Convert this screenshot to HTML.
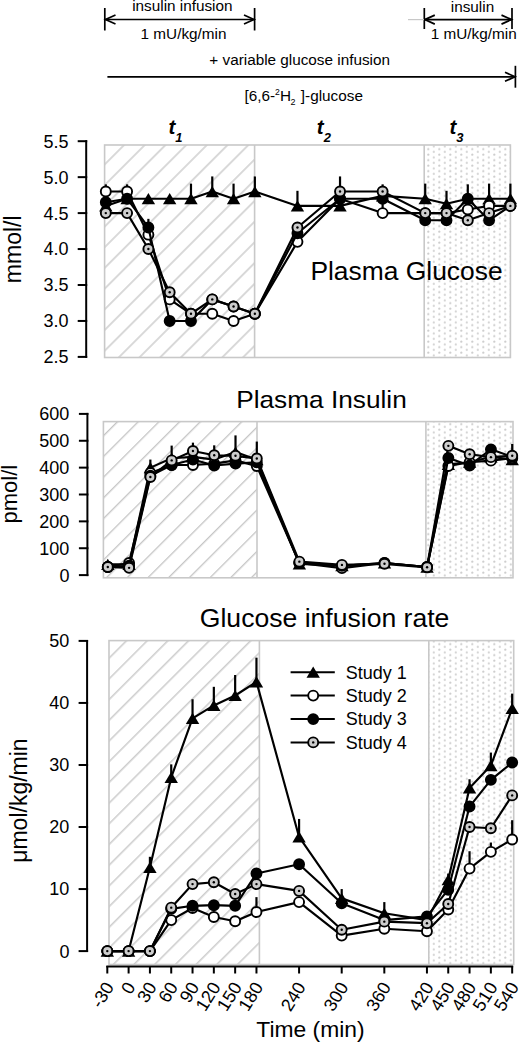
<!DOCTYPE html>
<html><head><meta charset="utf-8"><title>Figure</title>
<style>
html,body{margin:0;padding:0;background:#fff;width:520px;height:1042px;overflow:hidden}
svg{display:block;font-family:"Liberation Sans", sans-serif}
</style></head><body>
<svg width="520" height="1042" viewBox="0 0 520 1042" font-family='"Liberation Sans", sans-serif' fill="#000"><defs><pattern id="hatch1" patternUnits="userSpaceOnUse" width="14.64" height="14.64" patternTransform="rotate(45)"><rect x="-0.65" y="-1" width="1.25" height="17" fill="#c2c2c2"/><rect x="13.99" y="-1" width="1.25" height="17" fill="#c2c2c2"/></pattern><pattern id="hatch2" patternUnits="userSpaceOnUse" width="14.64" height="14.64" patternTransform="rotate(45)"><rect x="0.06" y="-1" width="1.25" height="17" fill="#c2c2c2"/><rect x="14.69" y="-1" width="1.25" height="17" fill="#c2c2c2"/></pattern><pattern id="hatch3" patternUnits="userSpaceOnUse" width="14.64" height="14.64" patternTransform="rotate(45)"><rect x="0.2" y="-1" width="1.25" height="17" fill="#c2c2c2"/><rect x="14.84" y="-1" width="1.25" height="17" fill="#c2c2c2"/></pattern><pattern id="dots" patternUnits="userSpaceOnUse" width="11" height="5.5" x="0" y="0">
<circle cx="10.3" cy="0.6" r="1.1" fill="#cdcdcd"/><circle cx="-0.7" cy="0.6" r="1.1" fill="#cdcdcd"/>
<circle cx="10.3" cy="6.1" r="1.1" fill="#cdcdcd"/><circle cx="-0.7" cy="6.1" r="1.1" fill="#cdcdcd"/>
<circle cx="4.8" cy="3.35" r="1.1" fill="#d2d2d2"/>
</pattern>
</defs><g stroke="#000" stroke-width="1.7" fill="none">
<line x1="104.8" y1="8" x2="104.8" y2="30.5"/>
<line x1="254.6" y1="8" x2="254.6" y2="30.5"/>
<line x1="105" y1="19.5" x2="254.4" y2="19.5"/>
<path d="M115.5 15 L105.5 19.5 L115.5 24"/>
<path d="M244 15 L254 19.5 L244 24"/>
<line x1="424.3" y1="8" x2="424.3" y2="29"/>
<line x1="512" y1="8" x2="512" y2="29"/>
<line x1="424.5" y1="19.6" x2="511.8" y2="19.6"/>
<path d="M434.8 15.1 L424.8 19.6 L434.8 24.1"/>
<path d="M501.5 15.1 L511.5 19.6 L501.5 24.1"/>
<line x1="107.4" y1="76.8" x2="515" y2="76.8"/>
<line x1="515.4" y1="65.8" x2="515.4" y2="87.7"/>
<path d="M505 72.3 L515 76.8 L505 81.3"/>
</g>
<line x1="408" y1="19.6" x2="424" y2="19.6" stroke="#c8c8c8" stroke-width="1.2"/>
<text x="132.2" y="10.8" font-size="15.3" text-anchor="start" >insulin infusion</text>
<text x="140.6" y="39.2" font-size="15.3" text-anchor="start" >1 mU/kg/min</text>
<text x="450.8" y="11.5" font-size="15.3" text-anchor="start" >insulin</text>
<text x="430.8" y="39.4" font-size="15.3" text-anchor="start" >1 mU/kg/min</text>
<text x="209.3" y="65.3" font-size="15.3" text-anchor="start" >+ variable glucose infusion</text>
<text x="244.5" y="100.6" font-size="15.3" text-anchor="start" >[6,6-<tspan x="274.9" y="94.9" font-size="8.6">2</tspan><tspan x="280.1" y="100.6">H</tspan><tspan x="290.6" y="105.3" font-size="9">2</tspan><tspan x="296.6" y="100.6"> ]-glucose</tspan></text>
<text x="168.5" y="133.8" font-size="20.5" font-weight="bold" font-style="italic">t<tspan font-size="13" dy="8">1</tspan></text>
<text x="316.8" y="133.8" font-size="20.5" font-weight="bold" font-style="italic">t<tspan font-size="13" dy="8">2</tspan></text>
<text x="449.4" y="133.8" font-size="20.5" font-weight="bold" font-style="italic">t<tspan font-size="13" dy="8">3</tspan></text>
<rect x="104.6" y="145" width="150" height="212.5" fill="url(#hatch1)"/>
<rect x="424.2" y="145" width="86.2" height="212.5" fill="url(#dots)"/>
<rect x="104.6" y="145" width="405.8" height="212.5" fill="none" stroke="#c8c8c8" stroke-width="1.6"/>
<line x1="254.6" y1="145" x2="254.6" y2="357.5" stroke="#c8c8c8" stroke-width="1.6"/>
<line x1="424.2" y1="145" x2="424.2" y2="357.5" stroke="#c8c8c8" stroke-width="1.6"/>
<line x1="86.2" y1="140.2" x2="86.2" y2="357.9" stroke="#000" stroke-width="2"/>
<line x1="77.7" y1="141.2" x2="87.2" y2="141.2" stroke="#000" stroke-width="2"/>
<text x="68.6" y="147.6" font-size="18" text-anchor="end" >5.5</text>
<line x1="77.7" y1="177.15" x2="87.2" y2="177.15" stroke="#000" stroke-width="2"/>
<text x="68.6" y="183.55" font-size="18" text-anchor="end" >5.0</text>
<line x1="77.7" y1="213.1" x2="87.2" y2="213.1" stroke="#000" stroke-width="2"/>
<text x="68.6" y="219.5" font-size="18" text-anchor="end" >4.5</text>
<line x1="77.7" y1="249.05" x2="87.2" y2="249.05" stroke="#000" stroke-width="2"/>
<text x="68.6" y="255.45" font-size="18" text-anchor="end" >4.0</text>
<line x1="77.7" y1="285" x2="87.2" y2="285" stroke="#000" stroke-width="2"/>
<text x="68.6" y="291.4" font-size="18" text-anchor="end" >3.5</text>
<line x1="77.7" y1="320.95" x2="87.2" y2="320.95" stroke="#000" stroke-width="2"/>
<text x="68.6" y="327.35" font-size="18" text-anchor="end" >3.0</text>
<line x1="77.7" y1="356.9" x2="87.2" y2="356.9" stroke="#000" stroke-width="2"/>
<text x="68.6" y="363.3" font-size="18" text-anchor="end" >2.5</text>
<text font-size="23" transform="translate(21.3 249.3) rotate(-90)" text-anchor="middle">mmol/l</text>
<text x="310.4" y="280.2" font-size="25.2" text-anchor="start" textLength="192.2" lengthAdjust="spacingAndGlyphs">Plasma Glucose</text>
<line x1="190.98" y1="198.72" x2="190.98" y2="183.62" stroke="#000" stroke-width="2.2"/>
<line x1="212.27" y1="191.53" x2="212.27" y2="176.43" stroke="#000" stroke-width="2.2"/>
<line x1="233.56" y1="198.72" x2="233.56" y2="183.62" stroke="#000" stroke-width="2.2"/>
<line x1="254.86" y1="191.53" x2="254.86" y2="176.43" stroke="#000" stroke-width="2.2"/>
<line x1="297.45" y1="205.91" x2="297.45" y2="190.81" stroke="#000" stroke-width="2.2"/>
<line x1="340.03" y1="205.91" x2="340.03" y2="176.43" stroke="#000" stroke-width="2.2"/>
<line x1="382.62" y1="195.84" x2="382.62" y2="184.34" stroke="#000" stroke-width="2.2"/>
<line x1="425.21" y1="198.72" x2="425.21" y2="183.62" stroke="#000" stroke-width="2.2"/>
<line x1="446.5" y1="203.75" x2="446.5" y2="190.81" stroke="#000" stroke-width="2.2"/>
<line x1="467.8" y1="198.72" x2="467.8" y2="184.34" stroke="#000" stroke-width="2.2"/>
<line x1="489.09" y1="198.72" x2="489.09" y2="183.62" stroke="#000" stroke-width="2.2"/>
<line x1="510.39" y1="198.72" x2="510.39" y2="183.62" stroke="#000" stroke-width="2.2"/>
<path d="M105.8 205.91 L127.09 198.72 L148.39 198.72 L169.68 198.72 L190.98 198.72 L212.27 191.53 L233.56 198.72 L254.86 191.53 L297.45 205.91 L340.03 205.91 L382.62 195.84 L425.21 198.72 L446.5 203.75 L467.8 198.72 L489.09 198.72 L510.39 198.72" fill="none" stroke="#000" stroke-width="2.15" stroke-linejoin="round"/>
<g fill="#000"><path d="M105.8 200.31L112.5 211.51L99.1 211.51Z"/><path d="M127.09 193.12L133.79 204.32L120.39 204.32Z"/><path d="M148.39 193.12L155.09 204.32L141.69 204.32Z"/><path d="M169.68 193.12L176.38 204.32L162.98 204.32Z"/><path d="M190.98 193.12L197.68 204.32L184.28 204.32Z"/><path d="M212.27 185.93L218.97 197.13L205.57 197.13Z"/><path d="M233.56 193.12L240.26 204.32L226.86 204.32Z"/><path d="M254.86 185.93L261.56 197.13L248.16 197.13Z"/><path d="M297.45 200.31L304.15 211.51L290.75 211.51Z"/><path d="M340.03 200.31L346.73 211.51L333.33 211.51Z"/><path d="M382.62 190.24L389.32 201.44L375.92 201.44Z"/><path d="M425.21 193.12L431.91 204.32L418.51 204.32Z"/><path d="M446.5 198.15L453.2 209.35L439.8 209.35Z"/><path d="M467.8 193.12L474.5 204.32L461.1 204.32Z"/><path d="M489.09 193.12L495.79 204.32L482.39 204.32Z"/><path d="M510.39 193.12L517.09 204.32L503.69 204.32Z"/></g>
<line x1="105.8" y1="191.53" x2="105.8" y2="184.34" stroke="#000" stroke-width="2.2"/>
<line x1="127.09" y1="191.53" x2="127.09" y2="184.34" stroke="#000" stroke-width="2.2"/>
<line x1="382.62" y1="213.1" x2="382.62" y2="203.75" stroke="#000" stroke-width="2.2"/>
<path d="M105.8 191.53 L127.09 191.53 L148.39 234.67 L169.68 299.38 L190.98 313.76 L212.27 313.76 L233.56 320.95 L254.86 313.76 L297.45 241.86 L340.03 198.72 L382.62 213.1 L425.21 213.1 L446.5 213.1 L467.8 209.5 L489.09 205.91 L510.39 205.91" fill="none" stroke="#000" stroke-width="2.15" stroke-linejoin="round"/>
<g fill="#000"><circle cx="105.8" cy="191.53" r="5" fill="#fff" stroke="#000" stroke-width="1.9"/><circle cx="127.09" cy="191.53" r="5" fill="#fff" stroke="#000" stroke-width="1.9"/><circle cx="148.39" cy="234.67" r="5" fill="#fff" stroke="#000" stroke-width="1.9"/><circle cx="169.68" cy="299.38" r="5" fill="#fff" stroke="#000" stroke-width="1.9"/><circle cx="190.98" cy="313.76" r="5" fill="#fff" stroke="#000" stroke-width="1.9"/><circle cx="212.27" cy="313.76" r="5" fill="#fff" stroke="#000" stroke-width="1.9"/><circle cx="233.56" cy="320.95" r="5" fill="#fff" stroke="#000" stroke-width="1.9"/><circle cx="254.86" cy="313.76" r="5" fill="#fff" stroke="#000" stroke-width="1.9"/><circle cx="297.45" cy="241.86" r="5" fill="#fff" stroke="#000" stroke-width="1.9"/><circle cx="340.03" cy="198.72" r="5" fill="#fff" stroke="#000" stroke-width="1.9"/><circle cx="382.62" cy="213.1" r="5" fill="#fff" stroke="#000" stroke-width="1.9"/><circle cx="425.21" cy="213.1" r="5" fill="#fff" stroke="#000" stroke-width="1.9"/><circle cx="446.5" cy="213.1" r="5" fill="#fff" stroke="#000" stroke-width="1.9"/><circle cx="467.8" cy="209.5" r="5" fill="#fff" stroke="#000" stroke-width="1.9"/><circle cx="489.09" cy="205.91" r="5" fill="#fff" stroke="#000" stroke-width="1.9"/><circle cx="510.39" cy="205.91" r="5" fill="#fff" stroke="#000" stroke-width="1.9"/></g>
<line x1="148.39" y1="227.48" x2="148.39" y2="218.85" stroke="#000" stroke-width="2.2"/>
<path d="M105.8 202.31 L127.09 198.72 L148.39 227.48 L169.68 320.95 L190.98 320.95 L212.27 299.38 L233.56 306.57 L254.86 313.76 L297.45 233.23 L340.03 198.72 L382.62 198.72 L425.21 220.29 L446.5 220.29 L467.8 198.72 L489.09 220.29 L510.39 205.91" fill="none" stroke="#000" stroke-width="2.15" stroke-linejoin="round"/>
<g fill="#000"><circle cx="105.8" cy="202.31" r="5" fill="#000" stroke="#000" stroke-width="1.9"/><circle cx="127.09" cy="198.72" r="5" fill="#000" stroke="#000" stroke-width="1.9"/><circle cx="148.39" cy="227.48" r="5" fill="#000" stroke="#000" stroke-width="1.9"/><circle cx="169.68" cy="320.95" r="5" fill="#000" stroke="#000" stroke-width="1.9"/><circle cx="190.98" cy="320.95" r="5" fill="#000" stroke="#000" stroke-width="1.9"/><circle cx="212.27" cy="299.38" r="5" fill="#000" stroke="#000" stroke-width="1.9"/><circle cx="233.56" cy="306.57" r="5" fill="#000" stroke="#000" stroke-width="1.9"/><circle cx="254.86" cy="313.76" r="5" fill="#000" stroke="#000" stroke-width="1.9"/><circle cx="297.45" cy="233.23" r="5" fill="#000" stroke="#000" stroke-width="1.9"/><circle cx="340.03" cy="198.72" r="5" fill="#000" stroke="#000" stroke-width="1.9"/><circle cx="382.62" cy="198.72" r="5" fill="#000" stroke="#000" stroke-width="1.9"/><circle cx="425.21" cy="220.29" r="5" fill="#000" stroke="#000" stroke-width="1.9"/><circle cx="446.5" cy="220.29" r="5" fill="#000" stroke="#000" stroke-width="1.9"/><circle cx="467.8" cy="198.72" r="5" fill="#000" stroke="#000" stroke-width="1.9"/><circle cx="489.09" cy="220.29" r="5" fill="#000" stroke="#000" stroke-width="1.9"/><circle cx="510.39" cy="205.91" r="5" fill="#000" stroke="#000" stroke-width="1.9"/></g>
<path d="M105.8 213.1 L127.09 213.1 L148.39 249.05 L169.68 292.19 L190.98 313.76 L212.27 299.38 L233.56 306.57 L254.86 313.76 L297.45 227.48 L340.03 191.53 L382.62 191.53 L425.21 213.1 L446.5 213.1 L467.8 220.29 L489.09 213.1 L510.39 205.91" fill="none" stroke="#000" stroke-width="2.15" stroke-linejoin="round"/>
<g fill="#000"><circle cx="105.8" cy="213.1" r="5" fill="#cdcdcd" stroke="#000" stroke-width="1.9"/><circle cx="105.8" cy="213.1" r="1.2" fill="#000"/><circle cx="127.09" cy="213.1" r="5" fill="#cdcdcd" stroke="#000" stroke-width="1.9"/><circle cx="127.09" cy="213.1" r="1.2" fill="#000"/><circle cx="148.39" cy="249.05" r="5" fill="#cdcdcd" stroke="#000" stroke-width="1.9"/><circle cx="148.39" cy="249.05" r="1.2" fill="#000"/><circle cx="169.68" cy="292.19" r="5" fill="#cdcdcd" stroke="#000" stroke-width="1.9"/><circle cx="169.68" cy="292.19" r="1.2" fill="#000"/><circle cx="190.98" cy="313.76" r="5" fill="#cdcdcd" stroke="#000" stroke-width="1.9"/><circle cx="190.98" cy="313.76" r="1.2" fill="#000"/><circle cx="212.27" cy="299.38" r="5" fill="#cdcdcd" stroke="#000" stroke-width="1.9"/><circle cx="212.27" cy="299.38" r="1.2" fill="#000"/><circle cx="233.56" cy="306.57" r="5" fill="#cdcdcd" stroke="#000" stroke-width="1.9"/><circle cx="233.56" cy="306.57" r="1.2" fill="#000"/><circle cx="254.86" cy="313.76" r="5" fill="#cdcdcd" stroke="#000" stroke-width="1.9"/><circle cx="254.86" cy="313.76" r="1.2" fill="#000"/><circle cx="297.45" cy="227.48" r="5" fill="#cdcdcd" stroke="#000" stroke-width="1.9"/><circle cx="297.45" cy="227.48" r="1.2" fill="#000"/><circle cx="340.03" cy="191.53" r="5" fill="#cdcdcd" stroke="#000" stroke-width="1.9"/><circle cx="340.03" cy="191.53" r="1.2" fill="#000"/><circle cx="382.62" cy="191.53" r="5" fill="#cdcdcd" stroke="#000" stroke-width="1.9"/><circle cx="382.62" cy="191.53" r="1.2" fill="#000"/><circle cx="425.21" cy="213.1" r="5" fill="#cdcdcd" stroke="#000" stroke-width="1.9"/><circle cx="425.21" cy="213.1" r="1.2" fill="#000"/><circle cx="446.5" cy="213.1" r="5" fill="#cdcdcd" stroke="#000" stroke-width="1.9"/><circle cx="446.5" cy="213.1" r="1.2" fill="#000"/><circle cx="467.8" cy="220.29" r="5" fill="#cdcdcd" stroke="#000" stroke-width="1.9"/><circle cx="467.8" cy="220.29" r="1.2" fill="#000"/><circle cx="489.09" cy="213.1" r="5" fill="#cdcdcd" stroke="#000" stroke-width="1.9"/><circle cx="489.09" cy="213.1" r="1.2" fill="#000"/><circle cx="510.39" cy="205.91" r="5" fill="#cdcdcd" stroke="#000" stroke-width="1.9"/><circle cx="510.39" cy="205.91" r="1.2" fill="#000"/></g>
<rect x="103.4" y="421.6" width="153.6" height="156.2" fill="url(#hatch2)"/>
<rect x="425.9" y="421.6" width="87.1" height="156.2" fill="url(#dots)"/>
<rect x="103.4" y="421.6" width="409.6" height="156.2" fill="none" stroke="#c8c8c8" stroke-width="1.6"/>
<line x1="257" y1="421.6" x2="257" y2="577.8" stroke="#c8c8c8" stroke-width="1.6"/>
<line x1="425.9" y1="421.6" x2="425.9" y2="577.8" stroke="#c8c8c8" stroke-width="1.6"/>
<line x1="87.4" y1="412.9" x2="87.4" y2="576.1" stroke="#000" stroke-width="2"/>
<line x1="78.9" y1="413.9" x2="88.4" y2="413.9" stroke="#000" stroke-width="2"/>
<text x="69.4" y="420.3" font-size="18" text-anchor="end" >600</text>
<line x1="78.9" y1="440.76" x2="88.4" y2="440.76" stroke="#000" stroke-width="2"/>
<text x="69.4" y="447.16" font-size="18" text-anchor="end" >500</text>
<line x1="78.9" y1="467.63" x2="88.4" y2="467.63" stroke="#000" stroke-width="2"/>
<text x="69.4" y="474.03" font-size="18" text-anchor="end" >400</text>
<line x1="78.9" y1="494.5" x2="88.4" y2="494.5" stroke="#000" stroke-width="2"/>
<text x="69.4" y="500.9" font-size="18" text-anchor="end" >300</text>
<line x1="78.9" y1="521.37" x2="88.4" y2="521.37" stroke="#000" stroke-width="2"/>
<text x="69.4" y="527.77" font-size="18" text-anchor="end" >200</text>
<line x1="78.9" y1="548.23" x2="88.4" y2="548.23" stroke="#000" stroke-width="2"/>
<text x="69.4" y="554.63" font-size="18" text-anchor="end" >100</text>
<line x1="78.9" y1="575.1" x2="88.4" y2="575.1" stroke="#000" stroke-width="2"/>
<text x="69.4" y="581.5" font-size="18" text-anchor="end" >0</text>
<text font-size="22" transform="translate(17.3 494.2) rotate(-90)" text-anchor="middle">pmol/l</text>
<text x="236.2" y="407.6" font-size="24.6" text-anchor="start" textLength="170.6" lengthAdjust="spacingAndGlyphs">Plasma Insulin</text>
<line x1="150.37" y1="467.63" x2="150.37" y2="459.57" stroke="#000" stroke-width="2.2"/>
<line x1="171.66" y1="458.23" x2="171.66" y2="445.6" stroke="#000" stroke-width="2.2"/>
<line x1="192.94" y1="456.89" x2="192.94" y2="442.65" stroke="#000" stroke-width="2.2"/>
<line x1="214.22" y1="459.57" x2="214.22" y2="445.33" stroke="#000" stroke-width="2.2"/>
<line x1="235.51" y1="452.05" x2="235.51" y2="435.39" stroke="#000" stroke-width="2.2"/>
<line x1="256.8" y1="459.57" x2="256.8" y2="441.57" stroke="#000" stroke-width="2.2"/>
<line x1="512.22" y1="459.57" x2="512.22" y2="443.99" stroke="#000" stroke-width="2.2"/>
<path d="M107.8 564.35 L129.09 564.35 L150.37 467.63 L171.66 458.23 L192.94 456.89 L214.22 459.57 L235.51 452.05 L256.8 459.57 L299.37 563.82 L341.94 565.7 L384.5 563.01 L427.08 567.04 L448.36 464.41 L469.65 462.26 L490.93 456.89 L512.22 459.57" fill="none" stroke="#000" stroke-width="2.15" stroke-linejoin="round"/>
<g fill="#000"><path d="M107.8 558.75L114.5 569.95L101.1 569.95Z"/><path d="M129.09 558.75L135.78 569.95L122.39 569.95Z"/><path d="M150.37 462.03L157.07 473.23L143.67 473.23Z"/><path d="M171.66 452.63L178.35 463.83L164.96 463.83Z"/><path d="M192.94 451.29L199.64 462.49L186.24 462.49Z"/><path d="M214.22 453.97L220.92 465.17L207.53 465.17Z"/><path d="M235.51 446.45L242.21 457.65L228.81 457.65Z"/><path d="M256.8 453.97L263.5 465.17L250.1 465.17Z"/><path d="M299.37 558.22L306.06 569.42L292.67 569.42Z"/><path d="M341.94 560.1L348.63 571.3L335.24 571.3Z"/><path d="M384.5 557.41L391.2 568.61L377.81 568.61Z"/><path d="M427.08 561.44L433.78 572.64L420.38 572.64Z"/><path d="M448.36 458.81L455.06 470.01L441.66 470.01Z"/><path d="M469.65 456.66L476.35 467.86L462.95 467.86Z"/><path d="M490.93 451.29L497.63 462.49L484.23 462.49Z"/><path d="M512.22 453.97L518.92 465.17L505.52 465.17Z"/></g>
<path d="M107.8 567.04 L129.09 563.01 L150.37 473.01 L171.66 464.95 L192.94 464.95 L214.22 463.6 L235.51 460.38 L256.8 466.02 L299.37 563.01 L341.94 568.11 L384.5 563.01 L427.08 567.04 L448.36 466.02 L469.65 462.26 L490.93 460.65 L512.22 458.23" fill="none" stroke="#000" stroke-width="2.15" stroke-linejoin="round"/>
<g fill="#000"><circle cx="107.8" cy="567.04" r="5" fill="#fff" stroke="#000" stroke-width="1.9"/><circle cx="129.09" cy="563.01" r="5" fill="#fff" stroke="#000" stroke-width="1.9"/><circle cx="150.37" cy="473.01" r="5" fill="#fff" stroke="#000" stroke-width="1.9"/><circle cx="171.66" cy="464.95" r="5" fill="#fff" stroke="#000" stroke-width="1.9"/><circle cx="192.94" cy="464.95" r="5" fill="#fff" stroke="#000" stroke-width="1.9"/><circle cx="214.22" cy="463.6" r="5" fill="#fff" stroke="#000" stroke-width="1.9"/><circle cx="235.51" cy="460.38" r="5" fill="#fff" stroke="#000" stroke-width="1.9"/><circle cx="256.8" cy="466.02" r="5" fill="#fff" stroke="#000" stroke-width="1.9"/><circle cx="299.37" cy="563.01" r="5" fill="#fff" stroke="#000" stroke-width="1.9"/><circle cx="341.94" cy="568.11" r="5" fill="#fff" stroke="#000" stroke-width="1.9"/><circle cx="384.5" cy="563.01" r="5" fill="#fff" stroke="#000" stroke-width="1.9"/><circle cx="427.08" cy="567.04" r="5" fill="#fff" stroke="#000" stroke-width="1.9"/><circle cx="448.36" cy="466.02" r="5" fill="#fff" stroke="#000" stroke-width="1.9"/><circle cx="469.65" cy="462.26" r="5" fill="#fff" stroke="#000" stroke-width="1.9"/><circle cx="490.93" cy="460.65" r="5" fill="#fff" stroke="#000" stroke-width="1.9"/><circle cx="512.22" cy="458.23" r="5" fill="#fff" stroke="#000" stroke-width="1.9"/></g>
<line x1="490.93" y1="449.36" x2="490.93" y2="447.48" stroke="#000" stroke-width="2.2"/>
<path d="M107.8 567.04 L129.09 565.7 L150.37 475.69 L171.66 464.95 L192.94 459.57 L214.22 465.48 L235.51 463.6 L256.8 462.26 L299.37 563.01 L341.94 565.7 L384.5 563.01 L427.08 567.04 L448.36 457.96 L469.65 465.48 L490.93 449.36 L512.22 456.89" fill="none" stroke="#000" stroke-width="2.15" stroke-linejoin="round"/>
<g fill="#000"><circle cx="107.8" cy="567.04" r="5" fill="#000" stroke="#000" stroke-width="1.9"/><circle cx="129.09" cy="565.7" r="5" fill="#000" stroke="#000" stroke-width="1.9"/><circle cx="150.37" cy="475.69" r="5" fill="#000" stroke="#000" stroke-width="1.9"/><circle cx="171.66" cy="464.95" r="5" fill="#000" stroke="#000" stroke-width="1.9"/><circle cx="192.94" cy="459.57" r="5" fill="#000" stroke="#000" stroke-width="1.9"/><circle cx="214.22" cy="465.48" r="5" fill="#000" stroke="#000" stroke-width="1.9"/><circle cx="235.51" cy="463.6" r="5" fill="#000" stroke="#000" stroke-width="1.9"/><circle cx="256.8" cy="462.26" r="5" fill="#000" stroke="#000" stroke-width="1.9"/><circle cx="299.37" cy="563.01" r="5" fill="#000" stroke="#000" stroke-width="1.9"/><circle cx="341.94" cy="565.7" r="5" fill="#000" stroke="#000" stroke-width="1.9"/><circle cx="384.5" cy="563.01" r="5" fill="#000" stroke="#000" stroke-width="1.9"/><circle cx="427.08" cy="567.04" r="5" fill="#000" stroke="#000" stroke-width="1.9"/><circle cx="448.36" cy="457.96" r="5" fill="#000" stroke="#000" stroke-width="1.9"/><circle cx="469.65" cy="465.48" r="5" fill="#000" stroke="#000" stroke-width="1.9"/><circle cx="490.93" cy="449.36" r="5" fill="#000" stroke="#000" stroke-width="1.9"/><circle cx="512.22" cy="456.89" r="5" fill="#000" stroke="#000" stroke-width="1.9"/></g>
<path d="M107.8 567.04 L129.09 567.85 L150.37 477.04 L171.66 460.38 L192.94 450.97 L214.22 455.27 L235.51 455.81 L256.8 458.5 L299.37 561.67 L341.94 564.89 L384.5 563.82 L427.08 567.31 L448.36 445.87 L469.65 454.2 L490.93 457.15 L512.22 455.81" fill="none" stroke="#000" stroke-width="2.15" stroke-linejoin="round"/>
<g fill="#000"><circle cx="107.8" cy="567.04" r="5" fill="#cdcdcd" stroke="#000" stroke-width="1.9"/><circle cx="107.8" cy="567.04" r="1.2" fill="#000"/><circle cx="129.09" cy="567.85" r="5" fill="#cdcdcd" stroke="#000" stroke-width="1.9"/><circle cx="129.09" cy="567.85" r="1.2" fill="#000"/><circle cx="150.37" cy="477.04" r="5" fill="#cdcdcd" stroke="#000" stroke-width="1.9"/><circle cx="150.37" cy="477.04" r="1.2" fill="#000"/><circle cx="171.66" cy="460.38" r="5" fill="#cdcdcd" stroke="#000" stroke-width="1.9"/><circle cx="171.66" cy="460.38" r="1.2" fill="#000"/><circle cx="192.94" cy="450.97" r="5" fill="#cdcdcd" stroke="#000" stroke-width="1.9"/><circle cx="192.94" cy="450.97" r="1.2" fill="#000"/><circle cx="214.22" cy="455.27" r="5" fill="#cdcdcd" stroke="#000" stroke-width="1.9"/><circle cx="214.22" cy="455.27" r="1.2" fill="#000"/><circle cx="235.51" cy="455.81" r="5" fill="#cdcdcd" stroke="#000" stroke-width="1.9"/><circle cx="235.51" cy="455.81" r="1.2" fill="#000"/><circle cx="256.8" cy="458.5" r="5" fill="#cdcdcd" stroke="#000" stroke-width="1.9"/><circle cx="256.8" cy="458.5" r="1.2" fill="#000"/><circle cx="299.37" cy="561.67" r="5" fill="#cdcdcd" stroke="#000" stroke-width="1.9"/><circle cx="299.37" cy="561.67" r="1.2" fill="#000"/><circle cx="341.94" cy="564.89" r="5" fill="#cdcdcd" stroke="#000" stroke-width="1.9"/><circle cx="341.94" cy="564.89" r="1.2" fill="#000"/><circle cx="384.5" cy="563.82" r="5" fill="#cdcdcd" stroke="#000" stroke-width="1.9"/><circle cx="384.5" cy="563.82" r="1.2" fill="#000"/><circle cx="427.08" cy="567.31" r="5" fill="#cdcdcd" stroke="#000" stroke-width="1.9"/><circle cx="427.08" cy="567.31" r="1.2" fill="#000"/><circle cx="448.36" cy="445.87" r="5" fill="#cdcdcd" stroke="#000" stroke-width="1.9"/><circle cx="448.36" cy="445.87" r="1.2" fill="#000"/><circle cx="469.65" cy="454.2" r="5" fill="#cdcdcd" stroke="#000" stroke-width="1.9"/><circle cx="469.65" cy="454.2" r="1.2" fill="#000"/><circle cx="490.93" cy="457.15" r="5" fill="#cdcdcd" stroke="#000" stroke-width="1.9"/><circle cx="490.93" cy="457.15" r="1.2" fill="#000"/><circle cx="512.22" cy="455.81" r="5" fill="#cdcdcd" stroke="#000" stroke-width="1.9"/><circle cx="512.22" cy="455.81" r="1.2" fill="#000"/></g>
<rect x="109" y="640.6" width="150.4" height="323.9" fill="url(#hatch3)"/>
<rect x="428.8" y="640.6" width="84.9" height="323.9" fill="url(#dots)"/>
<rect x="109" y="640.6" width="404.7" height="323.9" fill="none" stroke="#c8c8c8" stroke-width="1.6"/>
<line x1="259.4" y1="640.6" x2="259.4" y2="964.5" stroke="#c8c8c8" stroke-width="1.6"/>
<line x1="428.8" y1="640.6" x2="428.8" y2="964.5" stroke="#c8c8c8" stroke-width="1.6"/>
<line x1="87.1" y1="639.9" x2="87.1" y2="952.1" stroke="#000" stroke-width="2"/>
<line x1="78.6" y1="640.9" x2="88.1" y2="640.9" stroke="#000" stroke-width="2"/>
<text x="69.4" y="647.3" font-size="18" text-anchor="end" >50</text>
<line x1="78.6" y1="702.94" x2="88.1" y2="702.94" stroke="#000" stroke-width="2"/>
<text x="69.4" y="709.34" font-size="18" text-anchor="end" >40</text>
<line x1="78.6" y1="764.98" x2="88.1" y2="764.98" stroke="#000" stroke-width="2"/>
<text x="69.4" y="771.38" font-size="18" text-anchor="end" >30</text>
<line x1="78.6" y1="827.02" x2="88.1" y2="827.02" stroke="#000" stroke-width="2"/>
<text x="69.4" y="833.42" font-size="18" text-anchor="end" >20</text>
<line x1="78.6" y1="889.06" x2="88.1" y2="889.06" stroke="#000" stroke-width="2"/>
<text x="69.4" y="895.46" font-size="18" text-anchor="end" >10</text>
<line x1="78.6" y1="951.1" x2="88.1" y2="951.1" stroke="#000" stroke-width="2"/>
<text x="69.4" y="957.5" font-size="18" text-anchor="end" >0</text>
<text font-size="23" transform="translate(27.1 800.6) rotate(-90)" text-anchor="middle">&#956;mol/kg/min</text>
<text x="199.8" y="627" font-size="25.6" text-anchor="start" textLength="249.6" lengthAdjust="spacingAndGlyphs">Glucose infusion rate</text>
<line x1="106.3" y1="966.6" x2="513.17" y2="966.6" stroke="#000" stroke-width="2"/>
<line x1="107.3" y1="966" x2="107.3" y2="973.5" stroke="#000" stroke-width="2"/>
<text font-size="18" text-anchor="end" transform="translate(114.65 987.1) rotate(-58)">-30</text>
<line x1="128.61" y1="966" x2="128.61" y2="973.5" stroke="#000" stroke-width="2"/>
<text font-size="18" text-anchor="end" transform="translate(135.96 987.1) rotate(-58)">0</text>
<line x1="149.92" y1="966" x2="149.92" y2="973.5" stroke="#000" stroke-width="2"/>
<text font-size="18" text-anchor="end" transform="translate(157.27 987.1) rotate(-58)">30</text>
<line x1="171.23" y1="966" x2="171.23" y2="973.5" stroke="#000" stroke-width="2"/>
<text font-size="18" text-anchor="end" transform="translate(178.58 987.1) rotate(-58)">60</text>
<line x1="192.54" y1="966" x2="192.54" y2="973.5" stroke="#000" stroke-width="2"/>
<text font-size="18" text-anchor="end" transform="translate(199.89 987.1) rotate(-58)">90</text>
<line x1="213.84" y1="966" x2="213.84" y2="973.5" stroke="#000" stroke-width="2"/>
<text font-size="18" text-anchor="end" transform="translate(221.19 987.1) rotate(-58)">120</text>
<line x1="235.15" y1="966" x2="235.15" y2="973.5" stroke="#000" stroke-width="2"/>
<text font-size="18" text-anchor="end" transform="translate(242.5 987.1) rotate(-58)">150</text>
<line x1="256.46" y1="966" x2="256.46" y2="973.5" stroke="#000" stroke-width="2"/>
<text font-size="18" text-anchor="end" transform="translate(263.81 987.1) rotate(-58)">180</text>
<line x1="299.08" y1="966" x2="299.08" y2="973.5" stroke="#000" stroke-width="2"/>
<text font-size="18" text-anchor="end" transform="translate(306.43 987.1) rotate(-58)">240</text>
<line x1="341.7" y1="966" x2="341.7" y2="973.5" stroke="#000" stroke-width="2"/>
<text font-size="18" text-anchor="end" transform="translate(349.05 987.1) rotate(-58)">300</text>
<line x1="384.32" y1="966" x2="384.32" y2="973.5" stroke="#000" stroke-width="2"/>
<text font-size="18" text-anchor="end" transform="translate(391.67 987.1) rotate(-58)">360</text>
<line x1="426.94" y1="966" x2="426.94" y2="973.5" stroke="#000" stroke-width="2"/>
<text font-size="18" text-anchor="end" transform="translate(434.29 987.1) rotate(-58)">420</text>
<line x1="448.24" y1="966" x2="448.24" y2="973.5" stroke="#000" stroke-width="2"/>
<text font-size="18" text-anchor="end" transform="translate(455.59 987.1) rotate(-58)">450</text>
<line x1="469.55" y1="966" x2="469.55" y2="973.5" stroke="#000" stroke-width="2"/>
<text font-size="18" text-anchor="end" transform="translate(476.9 987.1) rotate(-58)">480</text>
<line x1="490.86" y1="966" x2="490.86" y2="973.5" stroke="#000" stroke-width="2"/>
<text font-size="18" text-anchor="end" transform="translate(498.21 987.1) rotate(-58)">510</text>
<line x1="512.17" y1="966" x2="512.17" y2="973.5" stroke="#000" stroke-width="2"/>
<text font-size="18" text-anchor="end" transform="translate(519.52 987.1) rotate(-58)">540</text>
<text x="256.3" y="1036.5" font-size="22.2" text-anchor="start" textLength="108.3" lengthAdjust="spacingAndGlyphs">Time (min)</text>
<line x1="149.92" y1="867.35" x2="149.92" y2="856.8" stroke="#000" stroke-width="2.2"/>
<line x1="171.23" y1="777.39" x2="171.23" y2="764.36" stroke="#000" stroke-width="2.2"/>
<line x1="192.54" y1="718.45" x2="192.54" y2="699.22" stroke="#000" stroke-width="2.2"/>
<line x1="213.84" y1="705.42" x2="213.84" y2="686.81" stroke="#000" stroke-width="2.2"/>
<line x1="235.15" y1="695.5" x2="235.15" y2="675.02" stroke="#000" stroke-width="2.2"/>
<line x1="256.46" y1="681.85" x2="256.46" y2="657.65" stroke="#000" stroke-width="2.2"/>
<line x1="299.08" y1="836.95" x2="299.08" y2="818.95" stroke="#000" stroke-width="2.2"/>
<line x1="341.7" y1="898.37" x2="341.7" y2="889.06" stroke="#000" stroke-width="2.2"/>
<line x1="384.32" y1="913.26" x2="384.32" y2="902.09" stroke="#000" stroke-width="2.2"/>
<line x1="448.24" y1="879.75" x2="448.24" y2="873.55" stroke="#000" stroke-width="2.2"/>
<line x1="469.55" y1="787.93" x2="469.55" y2="779.25" stroke="#000" stroke-width="2.2"/>
<line x1="490.86" y1="765.6" x2="490.86" y2="752.57" stroke="#000" stroke-width="2.2"/>
<line x1="512.17" y1="708.52" x2="512.17" y2="693.63" stroke="#000" stroke-width="2.2"/>
<path d="M107.3 951.1 L128.61 951.1 L149.92 867.35 L171.23 777.39 L192.54 718.45 L213.84 705.42 L235.15 695.5 L256.46 681.85 L299.08 836.95 L341.7 898.37 L384.32 913.26 L426.94 920.08 L448.24 879.75 L469.55 787.93 L490.86 765.6 L512.17 708.52" fill="none" stroke="#000" stroke-width="2.15" stroke-linejoin="round"/>
<g fill="#000"><path d="M107.3 945.5L114 956.7L100.6 956.7Z"/><path d="M128.61 945.5L135.31 956.7L121.91 956.7Z"/><path d="M149.92 861.75L156.62 872.95L143.22 872.95Z"/><path d="M171.23 771.79L177.93 782.99L164.53 782.99Z"/><path d="M192.54 712.85L199.24 724.05L185.84 724.05Z"/><path d="M213.84 699.82L220.54 711.02L207.15 711.02Z"/><path d="M235.15 689.9L241.85 701.1L228.45 701.1Z"/><path d="M256.46 676.25L263.16 687.45L249.76 687.45Z"/><path d="M299.08 831.35L305.78 842.55L292.38 842.55Z"/><path d="M341.7 892.77L348.4 903.97L335 903.97Z"/><path d="M384.32 907.66L391.02 918.86L377.62 918.86Z"/><path d="M426.94 914.48L433.63 925.68L420.24 925.68Z"/><path d="M448.24 874.15L454.94 885.35L441.54 885.35Z"/><path d="M469.55 782.33L476.25 793.53L462.85 793.53Z"/><path d="M490.86 760L497.56 771.2L484.16 771.2Z"/><path d="M512.17 702.92L518.87 714.12L505.47 714.12Z"/></g>
<line x1="256.46" y1="912.01" x2="256.46" y2="897.13" stroke="#000" stroke-width="2.2"/>
<line x1="469.55" y1="868.59" x2="469.55" y2="851.22" stroke="#000" stroke-width="2.2"/>
<line x1="490.86" y1="851.84" x2="490.86" y2="842.53" stroke="#000" stroke-width="2.2"/>
<line x1="512.17" y1="839.43" x2="512.17" y2="820.2" stroke="#000" stroke-width="2.2"/>
<path d="M107.3 951.1 L128.61 951.1 L149.92 951.1 L171.23 920.08 L192.54 907.98 L213.84 916.98 L235.15 921.32 L256.46 912.01 L299.08 902.09 L341.7 935.59 L384.32 928.77 L426.94 931.25 L448.24 909.53 L469.55 868.59 L490.86 851.84 L512.17 839.43" fill="none" stroke="#000" stroke-width="2.15" stroke-linejoin="round"/>
<g fill="#000"><circle cx="107.3" cy="951.1" r="5" fill="#fff" stroke="#000" stroke-width="1.9"/><circle cx="128.61" cy="951.1" r="5" fill="#fff" stroke="#000" stroke-width="1.9"/><circle cx="149.92" cy="951.1" r="5" fill="#fff" stroke="#000" stroke-width="1.9"/><circle cx="171.23" cy="920.08" r="5" fill="#fff" stroke="#000" stroke-width="1.9"/><circle cx="192.54" cy="907.98" r="5" fill="#fff" stroke="#000" stroke-width="1.9"/><circle cx="213.84" cy="916.98" r="5" fill="#fff" stroke="#000" stroke-width="1.9"/><circle cx="235.15" cy="921.32" r="5" fill="#fff" stroke="#000" stroke-width="1.9"/><circle cx="256.46" cy="912.01" r="5" fill="#fff" stroke="#000" stroke-width="1.9"/><circle cx="299.08" cy="902.09" r="5" fill="#fff" stroke="#000" stroke-width="1.9"/><circle cx="341.7" cy="935.59" r="5" fill="#fff" stroke="#000" stroke-width="1.9"/><circle cx="384.32" cy="928.77" r="5" fill="#fff" stroke="#000" stroke-width="1.9"/><circle cx="426.94" cy="931.25" r="5" fill="#fff" stroke="#000" stroke-width="1.9"/><circle cx="448.24" cy="909.53" r="5" fill="#fff" stroke="#000" stroke-width="1.9"/><circle cx="469.55" cy="868.59" r="5" fill="#fff" stroke="#000" stroke-width="1.9"/><circle cx="490.86" cy="851.84" r="5" fill="#fff" stroke="#000" stroke-width="1.9"/><circle cx="512.17" cy="839.43" r="5" fill="#fff" stroke="#000" stroke-width="1.9"/></g>
<path d="M107.3 951.1 L128.61 951.1 L149.92 951.1 L171.23 908.91 L192.54 905.81 L213.84 905.19 L235.15 905.81 L256.46 873.55 L299.08 864.24 L341.7 903.33 L384.32 920.08 L426.94 916.36 L448.24 889.68 L469.55 806.55 L490.86 779.87 L512.17 762.5" fill="none" stroke="#000" stroke-width="2.15" stroke-linejoin="round"/>
<g fill="#000"><circle cx="107.3" cy="951.1" r="5" fill="#000" stroke="#000" stroke-width="1.9"/><circle cx="128.61" cy="951.1" r="5" fill="#000" stroke="#000" stroke-width="1.9"/><circle cx="149.92" cy="951.1" r="5" fill="#000" stroke="#000" stroke-width="1.9"/><circle cx="171.23" cy="908.91" r="5" fill="#000" stroke="#000" stroke-width="1.9"/><circle cx="192.54" cy="905.81" r="5" fill="#000" stroke="#000" stroke-width="1.9"/><circle cx="213.84" cy="905.19" r="5" fill="#000" stroke="#000" stroke-width="1.9"/><circle cx="235.15" cy="905.81" r="5" fill="#000" stroke="#000" stroke-width="1.9"/><circle cx="256.46" cy="873.55" r="5" fill="#000" stroke="#000" stroke-width="1.9"/><circle cx="299.08" cy="864.24" r="5" fill="#000" stroke="#000" stroke-width="1.9"/><circle cx="341.7" cy="903.33" r="5" fill="#000" stroke="#000" stroke-width="1.9"/><circle cx="384.32" cy="920.08" r="5" fill="#000" stroke="#000" stroke-width="1.9"/><circle cx="426.94" cy="916.36" r="5" fill="#000" stroke="#000" stroke-width="1.9"/><circle cx="448.24" cy="889.68" r="5" fill="#000" stroke="#000" stroke-width="1.9"/><circle cx="469.55" cy="806.55" r="5" fill="#000" stroke="#000" stroke-width="1.9"/><circle cx="490.86" cy="779.87" r="5" fill="#000" stroke="#000" stroke-width="1.9"/><circle cx="512.17" cy="762.5" r="5" fill="#000" stroke="#000" stroke-width="1.9"/></g>
<path d="M107.3 951.1 L128.61 951.1 L149.92 951.1 L171.23 907.67 L192.54 884.1 L213.84 882.24 L235.15 894.02 L256.46 884.1 L299.08 890.92 L341.7 929.7 L384.32 921.63 L426.94 923.18 L448.24 903.95 L469.55 827.02 L490.86 828.26 L512.17 795.38" fill="none" stroke="#000" stroke-width="2.15" stroke-linejoin="round"/>
<g fill="#000"><circle cx="107.3" cy="951.1" r="5" fill="#cdcdcd" stroke="#000" stroke-width="1.9"/><circle cx="107.3" cy="951.1" r="1.2" fill="#000"/><circle cx="128.61" cy="951.1" r="5" fill="#cdcdcd" stroke="#000" stroke-width="1.9"/><circle cx="128.61" cy="951.1" r="1.2" fill="#000"/><circle cx="149.92" cy="951.1" r="5" fill="#cdcdcd" stroke="#000" stroke-width="1.9"/><circle cx="149.92" cy="951.1" r="1.2" fill="#000"/><circle cx="171.23" cy="907.67" r="5" fill="#cdcdcd" stroke="#000" stroke-width="1.9"/><circle cx="171.23" cy="907.67" r="1.2" fill="#000"/><circle cx="192.54" cy="884.1" r="5" fill="#cdcdcd" stroke="#000" stroke-width="1.9"/><circle cx="192.54" cy="884.1" r="1.2" fill="#000"/><circle cx="213.84" cy="882.24" r="5" fill="#cdcdcd" stroke="#000" stroke-width="1.9"/><circle cx="213.84" cy="882.24" r="1.2" fill="#000"/><circle cx="235.15" cy="894.02" r="5" fill="#cdcdcd" stroke="#000" stroke-width="1.9"/><circle cx="235.15" cy="894.02" r="1.2" fill="#000"/><circle cx="256.46" cy="884.1" r="5" fill="#cdcdcd" stroke="#000" stroke-width="1.9"/><circle cx="256.46" cy="884.1" r="1.2" fill="#000"/><circle cx="299.08" cy="890.92" r="5" fill="#cdcdcd" stroke="#000" stroke-width="1.9"/><circle cx="299.08" cy="890.92" r="1.2" fill="#000"/><circle cx="341.7" cy="929.7" r="5" fill="#cdcdcd" stroke="#000" stroke-width="1.9"/><circle cx="341.7" cy="929.7" r="1.2" fill="#000"/><circle cx="384.32" cy="921.63" r="5" fill="#cdcdcd" stroke="#000" stroke-width="1.9"/><circle cx="384.32" cy="921.63" r="1.2" fill="#000"/><circle cx="426.94" cy="923.18" r="5" fill="#cdcdcd" stroke="#000" stroke-width="1.9"/><circle cx="426.94" cy="923.18" r="1.2" fill="#000"/><circle cx="448.24" cy="903.95" r="5" fill="#cdcdcd" stroke="#000" stroke-width="1.9"/><circle cx="448.24" cy="903.95" r="1.2" fill="#000"/><circle cx="469.55" cy="827.02" r="5" fill="#cdcdcd" stroke="#000" stroke-width="1.9"/><circle cx="469.55" cy="827.02" r="1.2" fill="#000"/><circle cx="490.86" cy="828.26" r="5" fill="#cdcdcd" stroke="#000" stroke-width="1.9"/><circle cx="490.86" cy="828.26" r="1.2" fill="#000"/><circle cx="512.17" cy="795.38" r="5" fill="#cdcdcd" stroke="#000" stroke-width="1.9"/><circle cx="512.17" cy="795.38" r="1.2" fill="#000"/></g>
<line x1="290.6" y1="672.2" x2="334.8" y2="672.2" stroke="#000" stroke-width="2"/>
<g fill="#000"><path d="M313.2 666.6L319.9 677.8L306.5 677.8Z"/></g>
<text x="345.8" y="678.5" font-size="18" text-anchor="start" >Study 1</text>
<line x1="290.6" y1="695.6" x2="334.8" y2="695.6" stroke="#000" stroke-width="2"/>
<g fill="#000"><circle cx="313.2" cy="695.6" r="5" fill="#fff" stroke="#000" stroke-width="1.9"/></g>
<text x="345.8" y="701.9" font-size="18" text-anchor="start" >Study 2</text>
<line x1="290.6" y1="719.1" x2="334.8" y2="719.1" stroke="#000" stroke-width="2"/>
<g fill="#000"><circle cx="313.2" cy="719.1" r="5" fill="#000" stroke="#000" stroke-width="1.9"/></g>
<text x="345.8" y="725.4" font-size="18" text-anchor="start" >Study 3</text>
<line x1="290.6" y1="742.4" x2="334.8" y2="742.4" stroke="#000" stroke-width="2"/>
<g fill="#000"><circle cx="313.2" cy="742.4" r="5" fill="#cdcdcd" stroke="#000" stroke-width="1.9"/><circle cx="313.2" cy="742.4" r="1.2" fill="#000"/></g>
<text x="345.8" y="748.7" font-size="18" text-anchor="start" >Study 4</text></svg>
</body></html>
